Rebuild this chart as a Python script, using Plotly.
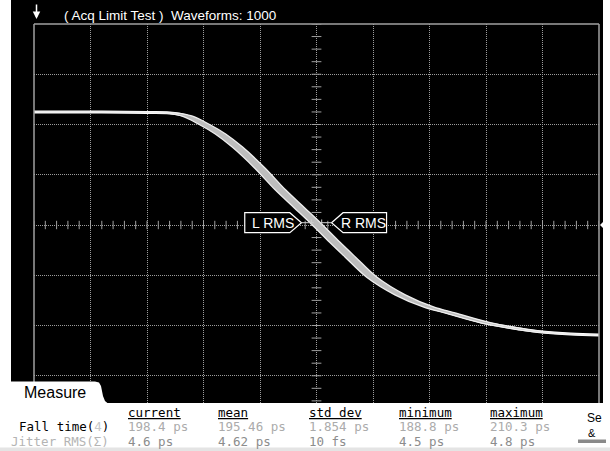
import plotly.graph_objects as go

# ---------------- data ----------------
# persistence waveform (time in ps, 50 ps/div; level in mV, 100 mV/div)
time_ps = [-250, -190, -150, -130, -115, -100, -85, -70, -50, -32, -15, 0,
           16, 30, 49, 74, 99, 118, 150, 180, 200, 225, 250]
level_mv = [225, 225, 224, 223, 217, 201, 181, 155, 113, 70, 34, 2,
            -34, -64, -104, -139, -163, -175, -195, -207, -213, -217, -219]
jitter_rms_ps = 4.6

title_text = "( Acq Limit Test )&nbsp; Waveforms: 1000"
meas_headers = ["current", "mean", "std dev", "minimum", "maximum"]
fall_time_vals = ["198.4 ps", "195.46 ps", "1.854 ps", "188.8 ps", "210.3 ps"]
jitter_vals = ["4.6 ps", "4.62 ps", "10 fs", "4.5 ps", "4.8 ps"]
row_labels = ["Fall time(<span style='color:#c8c8c8'>4</span>)", "Jitter RMS(Σ)"]

# ---------------- geometry helpers ----------------
FIG_W, FIG_H = 610, 451
ML, MR, MT, MB = 34, 11, 24, 48
PW = FIG_W - ML - MR
PH = FIG_H - MT - MB


def px_x(px):
    return (px - ML) / PW


def px_y(py):
    return (FIG_H - MB - py) / PH


def path_px(points, close=True):
    s = "M " + " L ".join(f"{px_x(x):.5f},{px_y(y):.5f}" for x, y in points)
    return s + (" Z" if close else "")


fig = go.Figure()

# center-axis minor ticks (decoration)
h_ticks = list(range(-250, 251, 10))
v_ticks = list(range(-350, 401, 25))
fig.add_trace(go.Scatter(x=h_ticks, y=[0] * len(h_ticks), mode="markers",
                         marker=dict(symbol="line-ns", size=6, line=dict(color="#a0a0a0", width=1)),
                         hoverinfo="skip"))
fig.add_trace(go.Scatter(x=[0] * len(v_ticks), y=v_ticks, mode="markers",
                         marker=dict(symbol="line-ew", size=7, line=dict(color="#a0a0a0", width=1)),
                         hoverinfo="skip"))

# waveform persistence band
early = [t - jitter_rms_ps for t in time_ps]
late = [t + jitter_rms_ps for t in time_ps]
fig.add_trace(go.Scatter(x=time_ps, y=level_mv, mode="lines", line=dict(color="white", width=3, shape="spline"),
                         hoverinfo="skip"))
fig.add_trace(go.Scatter(x=early, y=level_mv, mode="lines", line=dict(color="#eeeeee", width=1.3, shape="spline"),
                         hoverinfo="skip"))
fig.add_trace(go.Scatter(x=late, y=level_mv, mode="lines", line=dict(color="#eeeeee", width=1.3, shape="spline"),
                         fill="tonexty", fillcolor="#bdbdbd", hoverinfo="skip"))

# ---------------- shapes ----------------
shapes = []
# black screen
shapes.append(dict(type="rect", xref="paper", yref="paper", x0=px_x(11), x1=px_x(603),
                   y0=px_y(403), y1=px_y(0), fillcolor="black", line=dict(width=0), layer="below"))
# graticule border (top, left, right)
for (xa, ya, xb, yb) in [(0, 1, 1, 1), (0, 0, 0, 1), (1, 0, 1, 1)]:
    shapes.append(dict(type="line", xref="paper", yref="paper", x0=xa, y0=ya, x1=xb, y1=yb,
                       line=dict(color="#a0a0a0", width=1.5), layer="above"))

# L RMS / R RMS callouts (data coordinates)
l_box = [(-63.5, 24.5), (-23.6, 24.5), (-13.3, 4.6), (-23.6, -15.3), (-63.5, -15.3)]
r_box = [(13.3, 4.6), (23.5, 24.5), (62, 24.5), (62, -15.3), (23.5, -15.3)]
for box in (l_box, r_box):
    shapes.append(dict(type="path", xref="x", yref="y",
                       path="M " + " L ".join(f"{x},{y}" for x, y in box) + " Z",
                       fillcolor="black", line=dict(color="white", width=1.2), layer="above"))
# cursor stubs at +/- jitter
for sgn in (-1, 1):
    shapes.append(dict(type="line", xref="x", yref="y", x0=sgn * 13.3, x1=sgn * 2.5, y0=4.6, y1=4.6,
                       line=dict(color="#d0d0d0", width=1), layer="above"))
    shapes.append(dict(type="line", xref="x", yref="y", x0=sgn * jitter_rms_ps, x1=sgn * jitter_rms_ps,
                       y0=-2, y1=11, line=dict(color="#d0d0d0", width=1), layer="above"))

# right-edge level marker
shapes.append(dict(type="path", xref="paper", yref="paper",
                   path=path_px([(600, 225), (604, 221), (604, 229)]),
                   fillcolor="white", line=dict(width=0), layer="above"))

# bottom measurement panel + tab
shapes.append(dict(type="rect", xref="paper", yref="paper", x0=px_x(0), x1=px_x(610),
                   y0=px_y(451), y1=px_y(403), fillcolor="white", line=dict(width=0), layer="above"))
shapes.append(dict(type="path", xref="paper", yref="paper",
                   path=path_px([(0, 381.5), (95, 381.5), (99, 382.5), (101, 386), (103, 396),
                                 (105, 401), (108, 403.5), (0, 403.5)]),
                   fillcolor="white", line=dict(width=0), layer="above"))
shapes.append(dict(type="rect", xref="paper", yref="paper", x0=px_x(0), x1=px_x(610),
                   y0=px_y(451), y1=px_y(447.5), fillcolor="#e4e4e4", line=dict(width=0), layer="above"))
shapes.append(dict(type="rect", xref="paper", yref="paper", x0=px_x(578), x1=px_x(606),
                   y0=px_y(443), y1=px_y(439.5), fillcolor="#8a8a8a", line=dict(width=0), layer="above"))

# ---------------- annotations ----------------
ann = []
ann.append(dict(xref="paper", yref="paper", x=px_x(62), y=px_y(15), xanchor="left", yanchor="middle",
                text=title_text, showarrow=False,
                font=dict(family="Liberation Sans, Arial", size=13.5, color="white")))
ann.append(dict(xref="paper", yref="paper", x=px_x(36.5), y=px_y(19), ax=0, ay=-16, text="",
                showarrow=True, arrowhead=2, arrowsize=1, arrowwidth=1.5, arrowcolor="white"))
ann.append(dict(xref="x", yref="y", x=-38.5, y=4.6, text="L RMS", showarrow=False,
                font=dict(family="Liberation Sans Narrow, Arial Narrow, Liberation Sans", size=14, color="white")))
ann.append(dict(xref="x", yref="y", x=42, y=4.6, text="R RMS", showarrow=False,
                font=dict(family="Liberation Sans Narrow, Arial Narrow, Liberation Sans", size=14, color="white")))
ann.append(dict(xref="paper", yref="paper", x=px_x(22), y=px_y(392.5), xanchor="left", yanchor="middle",
                text="Measure", showarrow=False,
                font=dict(family="Liberation Sans, Arial", size=16, color="black")))

mono = "DejaVu Sans Mono, Liberation Mono, monospace"
col_x = [126, 216, 306.5, 397, 487.5]
row_y = [412, 426.5, 441]
for cx, h, v1, v2 in zip(col_x, meas_headers, fall_time_vals, jitter_vals):
    ann.append(dict(xref="paper", yref="paper", x=px_x(cx), y=px_y(row_y[0]), xanchor="left", yanchor="middle",
                    text=f"<u>{h}</u>", showarrow=False, font=dict(family=mono, size=12.5, color="black")))
    ann.append(dict(xref="paper", yref="paper", x=px_x(cx), y=px_y(row_y[1]), xanchor="left", yanchor="middle",
                    text=v1, showarrow=False, font=dict(family=mono, size=12.5, color="#ababab")))
    ann.append(dict(xref="paper", yref="paper", x=px_x(cx), y=px_y(row_y[2]), xanchor="left", yanchor="middle",
                    text=v2, showarrow=False, font=dict(family=mono, size=12.5, color="#8c8c8c")))
ann.append(dict(xref="paper", yref="paper", x=px_x(111), y=px_y(row_y[1]), xanchor="right", yanchor="middle",
                text=row_labels[0], showarrow=False, font=dict(family=mono, size=12.5, color="black")))
ann.append(dict(xref="paper", yref="paper", x=px_x(111), y=px_y(row_y[2]), xanchor="right", yanchor="middle",
                text=row_labels[1], showarrow=False, font=dict(family=mono, size=12.5, color="#b4b4b4")))
ann.append(dict(xref="paper", yref="paper", x=px_x(585), y=px_y(418), xanchor="left", yanchor="middle",
                text="Se", showarrow=False, font=dict(family="Liberation Sans, Arial", size=12, color="black")))
ann.append(dict(xref="paper", yref="paper", x=px_x(586), y=px_y(432.5), xanchor="left", yanchor="middle",
                text="&amp;", showarrow=False, font=dict(family="Liberation Sans, Arial", size=11, color="black")))

grid_style = dict(showgrid=True, gridcolor="#9c9c9c", gridwidth=1, griddash="1px,1px",
                  zeroline=False, showticklabels=False, ticks="", showline=False, fixedrange=True)

fig.update_layout(
    width=FIG_W, height=FIG_H, autosize=False,
    margin=dict(l=ML, r=MR, t=MT, b=MB, pad=0),
    paper_bgcolor="white", plot_bgcolor="black",
    showlegend=False,
    xaxis=dict(range=[-250, 250], tick0=0, dtick=50, **grid_style),
    yaxis=dict(range=[400 - PH / 50.25 * 100, 400], tick0=0, dtick=100, **grid_style),
    shapes=shapes, annotations=ann,
)

fig.write_html("out.html")
